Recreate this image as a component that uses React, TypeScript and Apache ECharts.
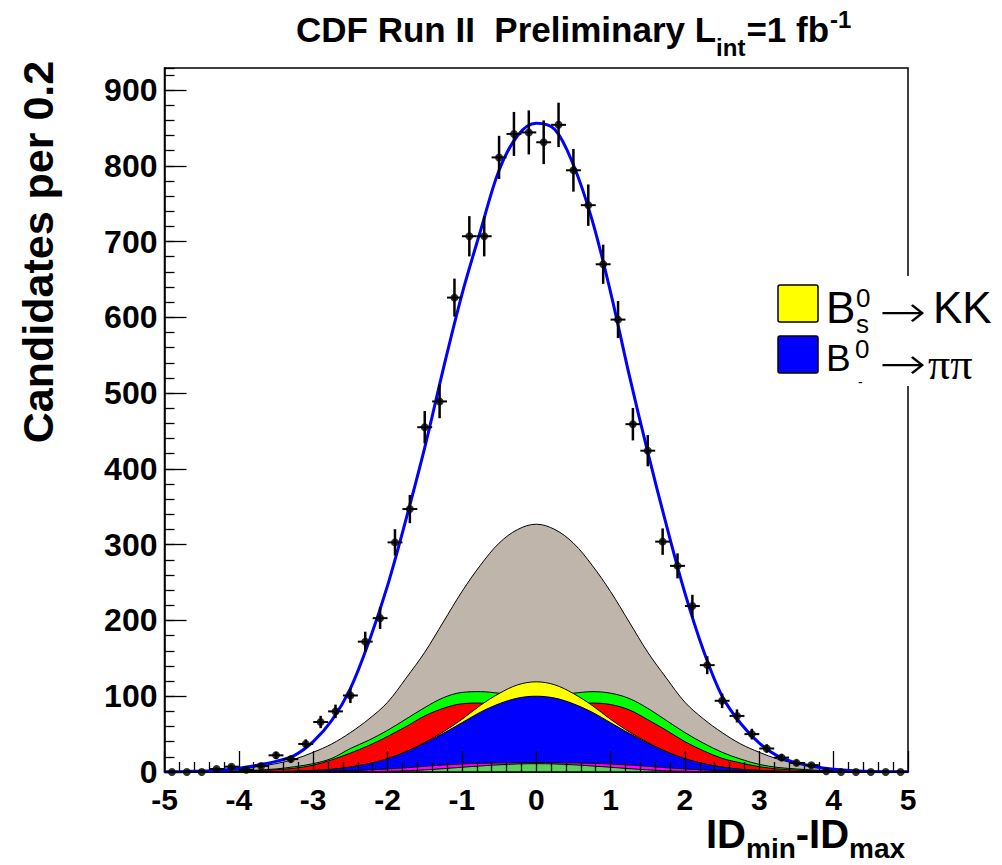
import React, { useEffect, useRef } from "react";
import * as echarts from "echarts";

// ---- Data ----
const binCenters = [
  -4.9, -4.7, -4.5, -4.3, -4.1, -3.9, -3.7, -3.5, -3.3, -3.1,
  -2.9, -2.7, -2.5, -2.3, -2.1, -1.9, -1.7, -1.5, -1.3, -1.1,
  -0.9, -0.7, -0.5, -0.3, -0.1, 0.1, 0.3, 0.5, 0.7, 0.9,
  1.1, 1.3, 1.5, 1.7, 1.9, 2.1, 2.3, 2.5, 2.7, 2.9,
  3.1, 3.3, 3.5, 3.7, 3.9, 4.1, 4.3, 4.5, 4.7, 4.9,
];
const counts = [
  0, 0, 0, 4, 7, 3, 8, 22, 17, 37,
  66, 80, 101, 172, 203, 303, 347, 455, 489, 626,
  707, 707, 811, 842, 844, 831, 854, 794, 748, 670,
  597, 459, 424, 304, 272, 219, 141, 94, 74, 50,
  31, 19, 12, 9, 1, 0, 0, 0, 0, 0,
];

const curveX = [
  -5, -4.75, -4.5, -4.25, -4, -3.75, -3.5, -3.25, -3, -2.75,
  -2.5, -2.25, -2, -1.75, -1.5, -1.25, -1, -0.75, -0.5, -0.25,
  0, 0.25, 0.5, 0.75, 1, 1.25, 1.5, 1.75, 2, 2.25,
  2.5, 2.75, 3, 3.25, 3.5, 3.75, 4, 4.25, 4.5, 4.75, 5,
];
const fitTotal = [
  0.3, 0.6, 1.2, 2.2, 5, 9, 14, 22, 40, 68,
  110, 172, 246, 334, 428, 532, 630, 714, 794, 840,
  856, 848, 801, 729, 633, 524, 422, 326, 236, 160,
  100, 64, 38, 21, 12, 7, 3.5, 1.7, 0.8, 0.4, 0.2,
];
const compGrey = [
  0.5, 1, 1.5, 2.5, 4, 7, 11, 17, 26, 37,
  52, 70, 92, 124, 158, 198, 238, 273, 302, 320,
  327, 320, 302, 273, 238, 198, 158, 124, 92, 70,
  52, 37, 26, 17, 11, 7, 4, 2.5, 1.5, 1, 0.5,
];
const compGreen = [
  0, 0.3, 0.5, 1, 1.5, 2.5, 4, 7, 11, 18,
  31, 42, 55, 70, 85, 98, 105, 106, 104, 102,
  101, 102, 104, 106, 104, 97, 84, 68, 52, 38,
  26, 17, 10, 6, 4, 2.5, 1.5, 1, 0.5, 0.3, 0,
];
const compRed = [
  0, 0.2, 0.4, 0.7, 1, 2, 3, 5, 9, 16,
  25, 35, 47, 60, 74, 84, 90, 91, 88, 85,
  84, 85, 88, 91, 89, 82, 69, 55, 40, 28,
  18, 12, 7, 4, 2.5, 1.5, 1, 0.6, 0.3, 0.2, 0,
];
const compYellow = [
  0, 0, 0, 0, 0.1, 0.2, 0.5, 1, 2, 3.5,
  6.5, 11, 17.6, 27, 39, 53, 69.5, 88, 103.5, 115,
  119, 115, 103.5, 88, 69.5, 53, 39, 27, 17.6, 11,
  6.5, 3.5, 2, 1, 0.5, 0.2, 0.1, 0, 0, 0, 0,
];
const compBlue = [
  0, 0, 0, 0, 0.1, 0.2, 0.5, 1, 2, 3.5,
  6.5, 11, 17.5, 26.5, 38, 51, 65, 79, 90, 97.5,
  100, 97.5, 90, 79, 65, 51, 38, 26.5, 17.5, 11,
  6.5, 3.5, 2, 1, 0.5, 0.2, 0.1, 0, 0, 0, 0,
];
const compMagenta = [
  0, 0, 0, 0, 0, 0.1, 0.2, 0.4, 0.7, 1.2,
  1.8, 2.8, 4, 5.6, 7.5, 9.2, 10.5, 11.5, 12, 12.3,
  12.5, 12.3, 12, 11.5, 10.5, 9.2, 7.5, 5.6, 4, 2.8,
  1.8, 1.2, 0.7, 0.4, 0.2, 0.1, 0, 0, 0, 0, 0,
];
const compLightGreen = [
  0, 0, 0, 0, 0, 0, 0, 0, 0, 0.1,
  0.2, 0.5, 0.9, 1.6, 2.8, 4.4, 6.3, 8, 9.5, 10.6,
  11, 10.6, 9.5, 8, 6.3, 4.4, 2.8, 1.6, 0.9, 0.5,
  0.2, 0.1, 0, 0, 0, 0, 0, 0, 0, 0, 0,
];

const xMin = -5;
const xMax = 5;
const yMin = 0;
const yMax = 929;

const FONT = "'Liberation Sans', Arial, Helvetica, sans-serif";
const SERIF = "'Liberation Serif', 'Times New Roman', serif";
const ARROW_FONT = "'DejaVu Sans', sans-serif";

function measure(text: string, font: string): number {
  const c = document.createElement("canvas").getContext("2d");
  if (!c) return text.length * 10;
  c.font = font;
  return c.measureText(text).width;
}

export default function App() {
  const ref = useRef<HTMLDivElement>(null);

  useEffect(() => {
    if (!ref.current) return;
    const chart = echarts.init(ref.current, undefined, { renderer: "svg" });

    const pairs = (ys: number[]) => curveX.map((x, i) => [x, ys[i]]);
    const area = (name: string, ys: number[], color: string, z: number) => ({
      type: "line",
      name,
      z,
      data: pairs(ys),
      smooth: 0.35,
      symbol: "none",
      silent: true,
      lineStyle: { color: "#000", width: 1 },
      areaStyle: { color, opacity: 1 },
    });

    // Title pieces
    const tS = 35;
    const tFont = `bold ${tS}px ${FONT}`;
    const tSub = 24;
    const tSubFont = `bold ${tSub}px ${FONT}`;
    let tx = 296;
    const titleEls: any[] = [];
    const addT = (text: string, size: number, y: number, advance: number) => {
      titleEls.push({
        type: "text",
        x: tx,
        y,
        style: {
          text,
          font: `bold ${size}px ${FONT}`,
          fill: "#000",
          align: "left",
          verticalAlign: "middle",
        },
      });
      tx += advance;
    };
    addT("CDF Run II", tS, 29, measure("CDF Run II  ", tFont));
    addT("Preliminary L", tS, 29, measure("Preliminary L", tFont));
    addT("int", tSub, 47, measure("int", tSubFont) + 1);
    addT("=1 fb", tS, 29, measure("=1 fb", tFont) + 1);
    addT("-1", tSub, 19, 0);

    // X axis title pieces
    const xS = 40;
    const xSub = 28;
    let xx = 706;
    const xTitleEls: any[] = [];
    const addX = (text: string, size: number, y: number) => {
      const f = `bold ${size}px ${FONT}`;
      xTitleEls.push({
        type: "text",
        x: xx,
        y,
        style: { text, font: f, fill: "#000", align: "left", verticalAlign: "middle" },
      });
      xx += measure(text, f);
    };
    addX("ID", xS, 834);
    addX("min", xSub, 848);
    addX("-ID", xS, 834);
    addX("max", xSub, 848);

    const arrowFont = `200 44px ${ARROW_FONT}`;
    const legendEls: any[] = [
      { type: "rect", shape: { x: 768, y: 276, width: 234, height: 110 }, style: { fill: "#fff" } },
      { type: "rect", shape: { x: 778, y: 285, width: 40, height: 37, r: 2 }, style: { fill: "#ffff00", stroke: "#000", lineWidth: 1.5 } },
      { type: "rect", shape: { x: 778, y: 336, width: 40, height: 37, r: 2 }, style: { fill: "#0000ff", stroke: "#000", lineWidth: 1.5 } },
      { type: "text", x: 826, y: 307, style: { text: "B", font: `44px ${FONT}`, fill: "#000", verticalAlign: "middle" } },
      { type: "text", x: 856, y: 298, style: { text: "0", font: `26px ${FONT}`, fill: "#000", verticalAlign: "middle" } },
      { type: "text", x: 856, y: 324, style: { text: "s", font: `26px ${FONT}`, fill: "#000", verticalAlign: "middle" } },
      { type: "text", x: 879, y: 312, scaleX: 1.28, style: { text: "\u2192", font: arrowFont, fill: "#000", verticalAlign: "middle" } },
      { type: "text", x: 933, y: 307, style: { text: "KK", font: `44px ${FONT}`, fill: "#000", verticalAlign: "middle" } },
      { type: "text", x: 826, y: 358, style: { text: "B", font: `37px ${FONT}`, fill: "#000", verticalAlign: "middle" } },
      { type: "text", x: 855, y: 349, style: { text: "0", font: `26px ${FONT}`, fill: "#000", verticalAlign: "middle" } },
      { type: "text", x: 858, y: 382, style: { text: "-", font: `14px ${FONT}`, fill: "#000", verticalAlign: "middle" } },
      { type: "text", x: 879, y: 364, scaleX: 1.28, style: { text: "\u2192", font: arrowFont, fill: "#000", verticalAlign: "middle" } },
      { type: "text", x: 928, y: 364, style: { text: "\u03c0\u03c0", font: `44px ${SERIF}`, fill: "#000", verticalAlign: "middle" } },
    ];

    const option: any = {
      animation: false,
      backgroundColor: "#fff",
      grid: {
        left: 164.5,
        top: 68,
        width: 743.5,
        height: 704,
        show: true,
        borderColor: "#000",
        borderWidth: 1.5,
        backgroundColor: "transparent",
      },
      xAxis: {
        type: "value",
        min: xMin,
        max: xMax,
        interval: 1,
        z: 8,
        axisLine: { onZero: false, lineStyle: { color: "#000", width: 1.5 } },
        axisTick: { inside: true, length: 21, lineStyle: { color: "#000", width: 1.3 } },
        minorTick: { show: true, splitNumber: 5, length: 10, lineStyle: { color: "#000", width: 1.3 } },
        splitLine: { show: false },
        axisLabel: {
          fontSize: 30,
          fontWeight: "bold",
          fontFamily: FONT,
          color: "#000",
          margin: 12,
        },
      },
      yAxis: [
        {
          type: "value",
          min: yMin,
          max: yMax,
          interval: 100,
          z: 8,
          axisLine: { onZero: false, lineStyle: { color: "#000", width: 1.5 } },
          axisTick: { inside: true, length: 22, lineStyle: { color: "#000", width: 1.3 } },
          splitLine: { show: false },
          axisLabel: {
            showMaxLabel: false,
            fontSize: 32,
            fontWeight: "bold",
            fontFamily: FONT,
            color: "#000",
            margin: 7,
          },
        },
        {
          type: "value",
          min: yMin,
          max: yMax,
          interval: 20,
          position: "left",
          z: 8,
          axisLine: { show: false, onZero: false },
          axisTick: { inside: true, length: 10, lineStyle: { color: "#000", width: 1.3 } },
          splitLine: { show: false },
          axisLabel: { show: false },
        },
      ],
      series: [
        area("grey", compGrey, "#bfb5ab", 1),
        area("green", compGreen, "#00ff00", 2),
        area("red", compRed, "#ff0000", 3),
        area("yellow", compYellow, "#ffff00", 4),
        area("blue", compBlue, "#0000ff", 5),
        area("magenta", compMagenta, "#ff00ff", 6),
        area("lightgreen", compLightGreen, "#5ad25a", 7),
        {
          type: "line",
          name: "fit",
          data: pairs(fitTotal),
          smooth: 0.35,
          symbol: "none",
          silent: true,
          z: 9,
          lineStyle: { color: "#0000ff", width: 3 },
        },
        {
          type: "custom",
          name: "errors",
          z: 10,
          silent: true,
          data: binCenters.map((x, i) => [x, counts[i], Math.sqrt(counts[i])]),
          renderItem: (params: any, api: any) => {
            const x = api.value(0);
            const y = api.value(1);
            const e = api.value(2);
            const c = api.coord([x, y]);
            const l = api.coord([x - 0.1, y]);
            const r = api.coord([x + 0.1, y]);
            const children: any[] = [
              { type: "line", shape: { x1: l[0], y1: c[1], x2: r[0], y2: c[1] }, style: { stroke: "#000", lineWidth: 2 } },
            ];
            if (e > 0) {
              const t = api.coord([x, y + e]);
              const b = api.coord([x, Math.max(0, y - e)]);
              children.push({ type: "line", shape: { x1: c[0], y1: t[1], x2: c[0], y2: b[1] }, style: { stroke: "#000", lineWidth: 2.5 } });
            }
            return { type: "group", children };
          },
        },
        {
          type: "scatter",
          name: "data",
          z: 11,
          silent: true,
          symbol: "circle",
          symbolSize: 8,
          itemStyle: { color: "#000" },
          data: binCenters.map((x, i) => [x, counts[i]]),
        },
      ],
      graphic: [
        ...titleEls,
        ...xTitleEls,
        {
          type: "text",
          x: 38,
          y: 252,
          rotation: Math.PI / 2,
          style: {
            text: "Candidates per 0.2",
            font: `bold 43px ${FONT}`,
            fill: "#000",
            align: "center",
            verticalAlign: "middle",
          },
        },
        ...legendEls.map((e) => ({ ...e, z: 100 })),
      ],
    };

    chart.setOption(option);
    return () => chart.dispose();
  }, []);

  return (
    <div
      ref={ref}
      style={{ position: "absolute", left: 0, top: 0, width: 1002, height: 865 }}
    />
  );
}
